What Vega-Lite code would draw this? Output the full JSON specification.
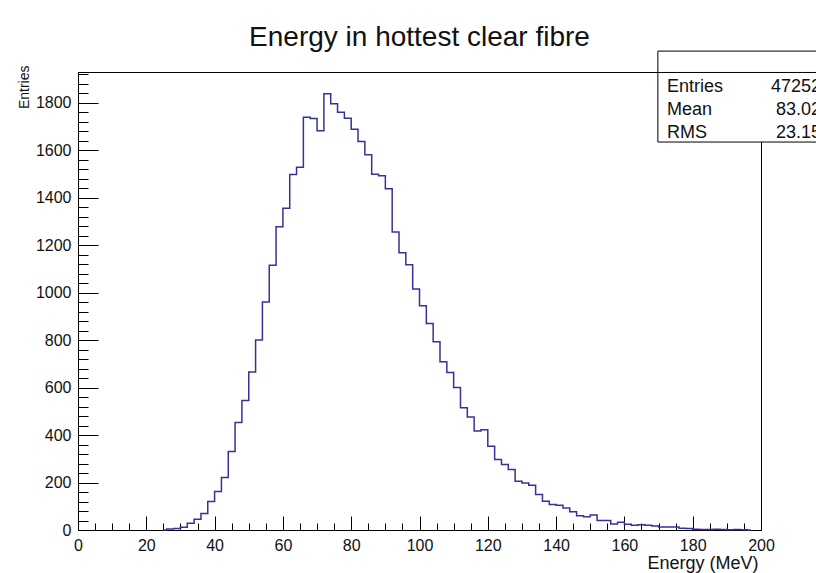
{
  "$schema": "https://vega.github.io/schema/vega-lite/v6.json",
  "width": 683,
  "height": 458,
  "autosize": "none",
  "padding": {"left": 78, "top": 72, "right": 55, "bottom": 43},
  "background": "white",
  "config": {
    "view": {"stroke": "black", "strokeWidth": 1},
    "font": "Liberation Sans",
    "axis": {
      "labelFont": "Liberation Sans",
      "labelFontSize": 16,
      "labelColor": "#111111",
      "domainColor": "black",
      "tickColor": "black",
      "grid": false,
      "titleFont": "Liberation Sans",
      "titleFontWeight": "normal",
      "titleColor": "#111111"
    }
  },
  "title": {
    "text": "Energy in hottest clear fibre",
    "font": "Liberation Sans",
    "fontSize": 28,
    "fontWeight": "normal",
    "color": "#111111",
    "anchor": "middle",
    "frame": "group",
    "baseline": "alphabetic",
    "offset": 14,
    "dy": 37
  },
  "datasets": {
    "hist": [
      {"energy": 25, "entries": 0},
      {"energy": 27, "entries": 4},
      {"energy": 29, "entries": 6},
      {"energy": 31, "entries": 12},
      {"energy": 33, "entries": 28},
      {"energy": 35, "entries": 45},
      {"energy": 37, "entries": 70},
      {"energy": 39, "entries": 120},
      {"energy": 41, "entries": 162},
      {"energy": 43, "entries": 221},
      {"energy": 45, "entries": 331},
      {"energy": 47, "entries": 453},
      {"energy": 49, "entries": 545},
      {"energy": 51, "entries": 665},
      {"energy": 53, "entries": 800},
      {"energy": 55, "entries": 960},
      {"energy": 57, "entries": 1115},
      {"energy": 59, "entries": 1277},
      {"energy": 61, "entries": 1355},
      {"energy": 63, "entries": 1497},
      {"energy": 65, "entries": 1528},
      {"energy": 67, "entries": 1738},
      {"energy": 69, "entries": 1733},
      {"energy": 71, "entries": 1682},
      {"energy": 73, "entries": 1837},
      {"energy": 75, "entries": 1795},
      {"energy": 77, "entries": 1760},
      {"energy": 79, "entries": 1734},
      {"energy": 81, "entries": 1688},
      {"energy": 83, "entries": 1636},
      {"energy": 85, "entries": 1580},
      {"energy": 87, "entries": 1498},
      {"energy": 89, "entries": 1492},
      {"energy": 91, "entries": 1437},
      {"energy": 93, "entries": 1255},
      {"energy": 95, "entries": 1168},
      {"energy": 97, "entries": 1117},
      {"energy": 99, "entries": 1015},
      {"energy": 101, "entries": 945},
      {"energy": 103, "entries": 870},
      {"energy": 105, "entries": 793},
      {"energy": 107, "entries": 709},
      {"energy": 109, "entries": 663},
      {"energy": 111, "entries": 600},
      {"energy": 113, "entries": 515},
      {"energy": 115, "entries": 476},
      {"energy": 117, "entries": 417},
      {"energy": 119, "entries": 422},
      {"energy": 121, "entries": 353},
      {"energy": 123, "entries": 297},
      {"energy": 125, "entries": 276},
      {"energy": 127, "entries": 255},
      {"energy": 129, "entries": 205},
      {"energy": 131, "entries": 198},
      {"energy": 133, "entries": 188},
      {"energy": 135, "entries": 149},
      {"energy": 137, "entries": 121},
      {"energy": 139, "entries": 107},
      {"energy": 141, "entries": 104},
      {"energy": 143, "entries": 93},
      {"energy": 145, "entries": 77},
      {"energy": 147, "entries": 60},
      {"energy": 149, "entries": 56},
      {"energy": 151, "entries": 63},
      {"energy": 153, "entries": 40},
      {"energy": 155, "entries": 40},
      {"energy": 157, "entries": 25},
      {"energy": 159, "entries": 33},
      {"energy": 161, "entries": 24},
      {"energy": 163, "entries": 20},
      {"energy": 165, "entries": 22},
      {"energy": 167, "entries": 20},
      {"energy": 169, "entries": 17},
      {"energy": 171, "entries": 13},
      {"energy": 173, "entries": 13},
      {"energy": 175, "entries": 13},
      {"energy": 177, "entries": 7},
      {"energy": 179, "entries": 6},
      {"energy": 181, "entries": 3},
      {"energy": 183, "entries": 2},
      {"energy": 185, "entries": 2},
      {"energy": 187, "entries": 3},
      {"energy": 189, "entries": 2},
      {"energy": 191, "entries": 1},
      {"energy": 193, "entries": 2},
      {"energy": 195, "entries": 1},
      {"energy": 197, "entries": 0}
    ],
    "stats": [
      {"labels": ["Entries", "Mean", "RMS"], "values": ["47252", "83.02", "23.15"]}
    ]
  },
  "resolve": {"axis": {"x": "independent", "y": "independent"}},
  "layer": [
    {
      "data": {"name": "hist"},
      "mark": {"type": "line", "opacity": 0},
      "encoding": {
        "x": {
          "field": "energy", "type": "quantitative",
          "scale": {"domain": [0, 200], "nice": false, "zero": false},
          "axis": {
            "orient": "bottom",
            "values": [0,5,10,15,20,25,30,35,40,45,50,55,60,65,70,75,80,85,90,95,100,105,110,115,120,125,130,135,140,145,150,155,160,165,170,175,180,185,190,195,200],
            "tickSize": -7, "labels": false, "domain": false, "title": null
          }
        },
        "y": {
          "field": "entries", "type": "quantitative",
          "scale": {"domain": [0, 1929], "nice": false},
          "axis": {
            "orient": "left",
            "values": [0,40,80,120,160,200,240,280,320,360,400,440,480,520,560,600,640,680,720,760,800,840,880,920,960,1000,1040,1080,1120,1160,1200,1240,1280,1320,1360,1400,1440,1480,1520,1560,1600,1640,1680,1720,1760,1800,1840,1880,1920],
            "tickSize": -10, "labels": false, "domain": false, "title": null
          }
        }
      }
    },
    {
      "data": {"name": "hist"},
      "mark": {"type": "line", "interpolate": "step", "color": "#333399", "strokeWidth": 1.5},
      "encoding": {
        "x": {
          "field": "energy", "type": "quantitative",
          "scale": {"domain": [0, 200], "nice": false, "zero": false},
          "axis": {
            "orient": "bottom",
            "values": [0,20,40,60,80,100,120,140,160,180,200],
            "format": "d",
            "tickSize": -14, "labelPadding": 21, "labelFlush": false, "labelOverlap": false,
            "title": "Energy (MeV)", "titleFontSize": 18,
            "titleAlign": "right", "titleBaseline": "alphabetic",
            "titleX": 680, "titleY": 38
          }
        },
        "y": {
          "field": "entries", "type": "quantitative",
          "scale": {"domain": [0, 1929], "nice": false},
          "axis": {
            "orient": "left",
            "values": [0,200,400,600,800,1000,1200,1400,1600,1800],
            "format": "d",
            "tickSize": -20, "labelPadding": 27, "labelOverlap": false, "labelFlush": false,
            "title": "Entries", "titleFontSize": 14,
            "titleAngle": 270, "titleAlign": "right", "titleBaseline": "bottom",
            "titleX": -47, "titleY": -7
          }
        }
      }
    },
    {
      "data": {"name": "stats"},
      "mark": {"type": "rect", "fill": "white", "stroke": "black", "strokeWidth": 1, "clip": false},
      "encoding": {
        "x": {"datum": 169.8, "type": "quantitative", "axis": null},
        "x2": {"datum": 240},
        "y": {"datum": 2017, "type": "quantitative", "axis": null},
        "y2": {"datum": 1634}
      }
    },
    {
      "data": {"name": "stats"},
      "mark": {"type": "rule", "stroke": "black", "strokeWidth": 1, "clip": false},
      "encoding": {
        "x": {"datum": 169.8, "type": "quantitative", "axis": null},
        "x2": {"datum": 240},
        "y": {"datum": 1927, "type": "quantitative", "axis": null}
      }
    },
    {
      "data": {"name": "stats"},
      "mark": {"type": "text", "align": "left", "baseline": "alphabetic", "fontSize": 18, "lineHeight": 23, "color": "#111111", "font": "Liberation Sans", "clip": false},
      "encoding": {
        "x": {"datum": 172.5, "type": "quantitative", "axis": null},
        "y": {"datum": 1845, "type": "quantitative", "axis": null},
        "text": {"field": "labels"}
      }
    },
    {
      "data": {"name": "stats"},
      "mark": {"type": "text", "align": "right", "baseline": "alphabetic", "fontSize": 18, "lineHeight": 23, "color": "#111111", "font": "Liberation Sans", "clip": false},
      "encoding": {
        "x": {"datum": 217.6, "type": "quantitative", "axis": null},
        "y": {"datum": 1845, "type": "quantitative", "axis": null},
        "text": {"field": "values"}
      }
    }
  ]
}
